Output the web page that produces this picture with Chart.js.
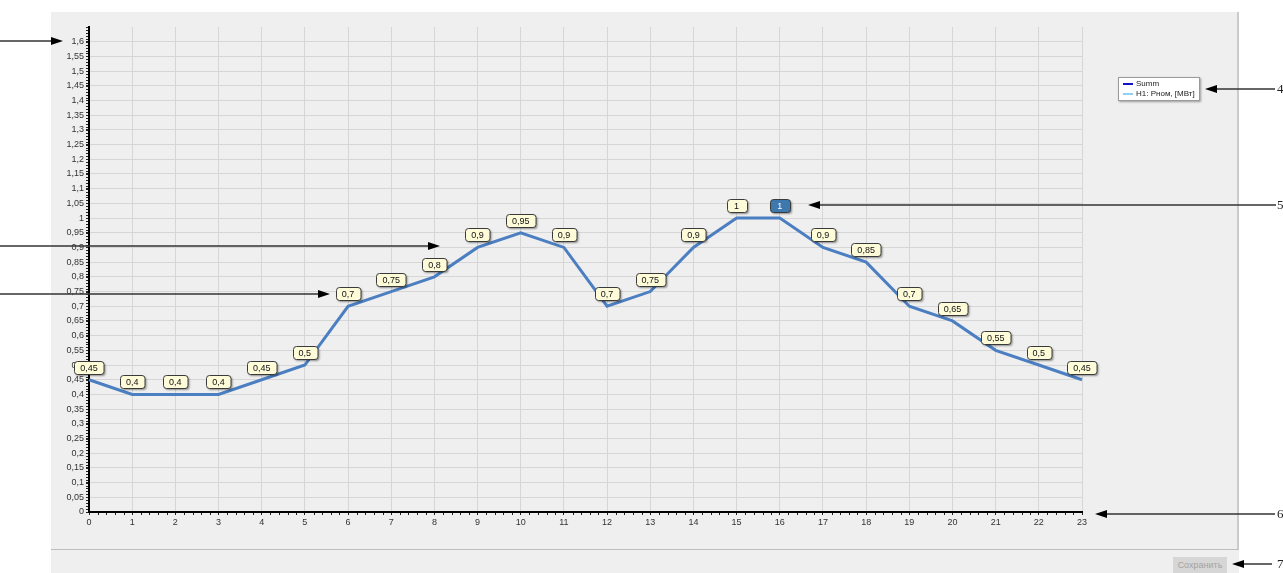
<!DOCTYPE html>
<html>
<head>
<meta charset="utf-8">
<script src="https://cdn.jsdelivr.net/npm/chart.js@4"></script>
<style>
  body { margin: 0; background: #fff; font-family: 'Liberation Sans', Arial, sans-serif; }
  #wrap { position: relative; width: 1283px; height: 573px; overflow: hidden; }
  #panel { position: absolute; left: 51px; top: 12px; width: 1186px; height: 537px; background: #efefef; border-right: 2px solid #cbcbcb; border-bottom: 1px solid #bdbdbd; }
  #bottom { position: absolute; left: 51px; top: 550px; width: 1188px; height: 23px; background: #efefef; }
  #chart { position: absolute; left: 0; top: 0; }
  #legend { position: absolute; left: 1118px; top: 77px; width: 80px; height: 22px; background: #fff; border: 1px solid #9a9a9a; box-shadow: 1px 1px 2px rgba(0,0,0,0.35); font-size: 8px; color: #222; }
  #legend div { position: relative; height: 9px; line-height: 9px; padding-left: 17px; margin-top: 1px; white-space: nowrap; }
  #legend span { position: absolute; left: 4px; top: 4px; width: 10px; height: 2px; }
  #save { position: absolute; left: 1173px; top: 557px; width: 54px; height: 16px; background: #d6d6d6; color: #a3a3a3; font-size: 9px; line-height: 16px; text-align: center; }
  .num { position: absolute; left: 1277px; font-family: 'Liberation Serif', serif; font-size: 13px; color: #222; line-height: 13px; }
</style>
</head>
<body>
<div id="wrap">
  <div id="panel"></div>
  <div id="bottom"></div>
  <canvas id="chart" width="1283" height="573"></canvas>
  <div id="legend">
    <div><span style="background:#1010c8"></span>Summ</div>
    <div><span style="background:#8fd0f5"></span>H1: Рном, [МВт]</div>
  </div>
  <div id="save">Сохранить</div>
  <div class="num" style="top:82px">4</div>
  <div class="num" style="top:198px">5</div>
  <div class="num" style="top:507px">6</div>
  <div class="num" style="top:557px">7</div>
</div>
<script>
// часы и мощность
const hours = ['0','1','2','3','4','5','6','7','8','9','10','11','12','13','14','15','16','17','18','19','20','21','22','23'];
const power = [0.45, 0.4, 0.4, 0.4, 0.45, 0.5, 0.7, 0.75, 0.8, 0.9, 0.95, 0.9, 0.7, 0.75, 0.9, 1, 1, 0.9, 0.85, 0.7, 0.65, 0.55, 0.5, 0.45];
const selectedIndex = 16;
const yMax = 1.65;
const yStep = 0.05;

function fmt(v) {
  return String(Number(v.toFixed(2))).replace('.', ',');
}

// стрелки-выноски
const arrows = [
  { x1: 0, x2: 63, y: 41 },
  { x1: 0, x2: 440, y: 246 },
  { x1: 0, x2: 330, y: 294 },
  { x1: 1275, x2: 1205, y: 89 },
  { x1: 1276, x2: 808, y: 205 },
  { x1: 1275, x2: 1095, y: 514 },
  { x1: 1272, x2: 1232, y: 564 }
];

const extras = {
  id: 'extras',
  afterDraw(chart) {
    const c = chart.ctx;
    const xs = chart.scales.x, ys = chart.scales.y;
    c.save();
    // мелкие деления
    c.strokeStyle = '#222';
    c.lineWidth = 1;
    c.beginPath();
    for (let i = 0; i <= 165; i++) {
      const py = Math.round(ys.getPixelForValue(i / 100)) + 0.5;
      c.moveTo(xs.left - 3, py);
      c.lineTo(xs.left - 1, py);
    }
    for (let i = 0; i < hours.length - 1; i++) {
      for (let k = 1; k < 5; k++) {
        const px = Math.round(xs.getPixelForValue(i) + (xs.getPixelForValue(i + 1) - xs.getPixelForValue(i)) * k / 5) + 0.5;
        c.moveTo(px, ys.bottom + 1);
        c.lineTo(px, ys.bottom + 3);
      }
    }
    c.stroke();

    // подписи значений
    const meta = chart.getDatasetMeta(0);
    c.font = '9px "Liberation Sans", Arial, sans-serif';
    c.textAlign = 'center';
    c.textBaseline = 'middle';
    meta.data.forEach((pt, i) => {
      const txt = fmt(power[i]);
      const w = Math.max(c.measureText(txt).width + 12, 20);
      const h = 13;
      const bx = Math.round(pt.x - w / 2) + 0.5;
      const by = Math.round(pt.y - 6 - h) + 0.5;
      c.save();
      c.shadowColor = 'rgba(0,0,0,0.4)';
      c.shadowOffsetX = 1.5;
      c.shadowOffsetY = 1.5;
      c.shadowBlur = 2;
      c.fillStyle = i === selectedIndex ? '#3d78ae' : '#fdfbd8';
      c.beginPath();
      c.roundRect(bx, by, w, h, 3);
      c.fill();
      c.restore();
      c.strokeStyle = '#3a3a3a';
      c.lineWidth = 1;
      c.beginPath();
      c.roundRect(bx, by, w, h, 3);
      c.stroke();
      c.fillStyle = i === selectedIndex ? '#fff' : '#111';
      c.fillText(txt, pt.x, by + h / 2 + 0.5);
    });

    // стрелки
    c.strokeStyle = '#333';
    c.fillStyle = '#000';
    c.lineWidth = 1.5;
    arrows.forEach(a => {
      const dir = a.x2 > a.x1 ? 1 : -1;
      c.beginPath();
      c.moveTo(a.x1, a.y);
      c.lineTo(a.x2 - dir * 8, a.y);
      c.stroke();
      c.beginPath();
      c.moveTo(a.x2, a.y);
      c.lineTo(a.x2 - dir * 12, a.y - 4);
      c.lineTo(a.x2 - dir * 12, a.y + 4);
      c.closePath();
      c.fill();
    });
    c.restore();
  }
};

new Chart(document.getElementById('chart'), {
  type: 'line',
  data: {
    labels: hours,
    datasets: [{
      label: 'Summ',
      data: power,
      borderColor: '#4b7fc2',
      borderWidth: 3,
      pointRadius: 0,
      tension: 0
    }]
  },
  options: {
    responsive: false,
    animation: false,
    layout: { padding: { left: 51, top: 27, right: 201, bottom: 41 } },
    plugins: { legend: { display: false }, tooltip: { enabled: false } },
    scales: {
      x: {
        offset: false,
        afterFit: s => { s.height = 20; },
        grid: { color: '#d6d6d6', tickLength: 3, tickColor: '#222' },
        border: { color: '#000', width: 2 },
        ticks: { autoSkip: false, maxRotation: 0, padding: 2, color: '#333', font: { size: 9, family: '"Liberation Sans", Arial, sans-serif' } }
      },
      y: {
        min: 0,
        max: yMax,
        afterFit: s => { s.width = 38; },
        grid: {
          color: ctx => ctx.tick && ctx.tick.value > yMax - 0.01 ? 'rgba(0,0,0,0)' : '#d6d6d6',
          tickLength: 3,
          tickColor: '#222'
        },
        border: { color: '#000', width: 2 },
        ticks: {
          stepSize: yStep,
          maxTicksLimit: 100,
          autoSkip: false,
          padding: 2,
          color: '#333',
          font: { size: 9, family: '"Liberation Sans", Arial, sans-serif' },
          callback: v => v > yMax - 0.01 ? '' : fmt(v)
        }
      }
    }
  },
  plugins: [extras]
});
</script>
</body>
</html>
